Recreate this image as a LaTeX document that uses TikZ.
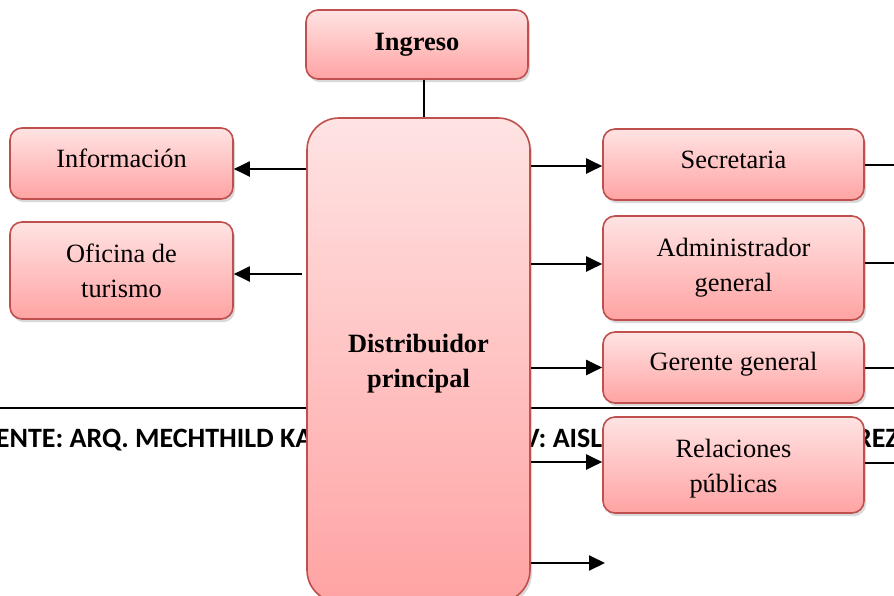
\documentclass[tikz,border=0pt]{standalone}
\usepackage{fontspec}
\setmainfont{Liberation Serif}
\newfontfamily\piefont{Carlito}
\usetikzlibrary{arrows.meta, positioning, shadows}
\definecolor{cborde}{HTML}{C0504D}
\definecolor{crosaclaro}{HTML}{FFE3E3}
\definecolor{crosa}{HTML}{FFA3A3}
\tikzset{
  every picture/.style={line width=1pt},
  caja/.style={draw=cborde, line width=0.8pt, top color=crosaclaro, bottom color=crosa, rounded corners=6pt, align=center, inner sep=2pt, font=\fontsize{13.2}{17.5}\selectfont, drop shadow={shadow xshift=1pt, shadow yshift=-1.6pt, opacity=0.3}},
  titulo/.style={font=\bfseries\fontsize{13.2}{17.5}\selectfont},
  flecha/.style={-{Triangle[length=8pt, width=7.5pt]}, draw=black, line width=1pt},
  linea/.style={draw=black, line width=1pt},
  pie/.style={font=\piefont\bfseries\fontsize{14}{17}\selectfont, inner sep=0pt, anchor=base west},
}

\begin{document}
\begin{tikzpicture}[x=0.5pt, y=-0.5pt]
  \useasboundingbox (0,0) rectangle (894,595);
  % pie de figura, tapado en parte por las cajas
  \coordinate (pie-izq) at (0,408);
  \coordinate (pie-der) at (894,408);
  \draw[linea] (pie-izq) -- (pie-der);
  \node[pie] (fuente) at (-5,447) {ENTE: ARQ. MECHTHILD KA};
  \node[pie] (autor) at (522,447) {V: AISL};
  \node[pie] (apellido) at (855,447) {REZ};
  % cajas
  \node[caja, titulo, minimum width=111pt, minimum height=34.5pt] (ingreso) at (417,44.5) {Ingreso};
  \node[caja, titulo, rounded corners=16pt, minimum width=111.5pt, minimum height=242pt] (distrib) at (418.5,360) {\rule{0pt}{12.5pt}Distribuidor\\principal};
  \node[caja, text depth=5pt, minimum width=111.5pt, minimum height=35.5pt] (info) at (121.5,163.5) {Información};
  \node[caja, minimum width=111.5pt, minimum height=48.5pt] (ofi) at (121.5,270.5) {Oficina de\\turismo};
  \node[caja, text depth=5pt, minimum width=130.5pt, minimum height=35.5pt] (secre) at (733.5,164.5) {Secretaria};
  \node[caja, minimum width=130.5pt, minimum height=52pt] (admin) at (733.5,268) {Administrador\\general};
  \node[caja, text depth=6.4pt, minimum width=130.5pt, minimum height=35.5pt] (gerente) at (733.5,367.5) {Gerente general};
  \node[caja, minimum width=130.5pt, minimum height=48pt] (relac) at (733.5,465) {\rule{0pt}{13pt}Relaciones\\públicas};
  % conexiones
  \draw[line width=0.6pt] ([xshift=3.5pt]ingreso.south) -- ([xshift=3.5pt]ingreso.south |- distrib.north);
  \draw[flecha] ([yshift=-2.75pt]distrib.west |- info.east) -- ([yshift=-2.75pt]info.east);
  \draw[flecha] ([xshift=-2pt, yshift=-1.75pt]distrib.west |- ofi.east) -- ([yshift=-1.75pt]ofi.east);
  \draw[flecha] ([yshift=-0.75pt]distrib.east |- secre.west) -- ([yshift=-0.75pt]secre.west);
  \draw[flecha] ([yshift=2pt]distrib.east |- admin.west) -- ([yshift=2pt]admin.west);
  \draw[flecha] (distrib.east |- gerente.west) -- (gerente.west);
  \draw[flecha] ([yshift=1.5pt]distrib.east |- relac.west) -- ([yshift=1.5pt]relac.west);
  \coordinate (libre) at (605,563);
  \draw[flecha] (distrib.east |- libre) -- (libre);
  % salidas hacia el borde derecho
  \coordinate (borde) at (894,0);
  \draw[linea] ([yshift=-0.25pt]secre.east) -- ([yshift=-0.25pt]secre.east -| borde);
  \draw[linea] ([yshift=2.5pt]admin.east) -- ([yshift=2.5pt]admin.east -| borde);
  \draw[linea] (gerente.east) -- (gerente.east -| borde);
  \draw[linea] ([yshift=1pt]relac.east) -- ([yshift=1pt]relac.east -| borde);
\end{tikzpicture}
\end{document}
